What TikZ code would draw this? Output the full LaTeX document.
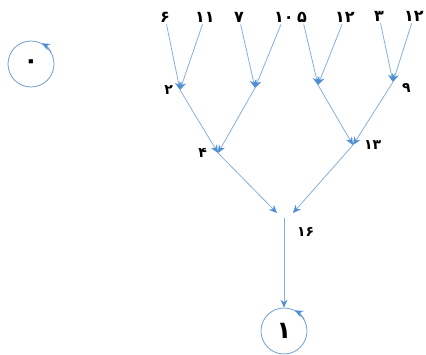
\documentclass[tikz,border=0pt]{standalone}
\usepackage{fontspec}
\newfontfamily\arabicfont[Script=Arabic]{DejaVu Sans}
\usetikzlibrary{arrows.meta,positioning}
\definecolor{edgeblue}{RGB}{135,175,222}
\definecolor{tipblue}{RGB}{78,142,212}
\definecolor{ringblue}{RGB}{115,160,205}

\begin{document}
\begin{tikzpicture}[
    x=1pt, y=1pt,
    leaf/.style={font=\arabicfont\bfseries\fontsize{16}{18}\selectfont, inner sep=2pt},
    weight/.style={font=\arabicfont\bfseries\fontsize{14}{16}\selectfont, inner sep=1pt},
    arrow/.style={-{Stealth[length=8pt,width=7pt,color=tipblue]}, draw=edgeblue, line width=0.8pt},
    ring/.style={circle, draw=ringblue, line width=0.8pt, minimum size=46pt, inner sep=0pt, font=\arabicfont\bfseries\fontsize{24}{26}\selectfont},
    looptip/.style={-{Stealth[length=8pt,width=7pt,color=tipblue]}, draw=ringblue, line width=0.8pt}
]
\useasboundingbox (0,0) rectangle (426,354);

% Leaves
\node[leaf] (lsix) at (165,337) {۶};
\node[leaf] (leleven) at (205,337) {۱۱};
\node[leaf] (lseven) at (239,337) {۷};
\node[leaf] (lten) at (284,337) {۱۰};
\node[leaf] (lfive) at (302,337) {۵};
\node[leaf] (ltwelve) at (345,337) {۱۲};
\node[leaf] (lthree) at (379,338) {۳};
\node[leaf] (ltwelveb) at (414,338) {۱۲};

% Junctions
\coordinate (jtwo) at (180,264);
\coordinate (jleft) at (255,266);
\coordinate (jright) at (318,269);
\coordinate (jnine) at (393,272);
\coordinate (kfour) at (218,201);
\coordinate (kthirteen) at (353,209);
\coordinate (mleft) at (277,141);
\coordinate (mright) at (293,141);
\coordinate (mstem) at (284,136);

% Weights
\node[weight, left=6pt of jtwo] (wtwo) {۲};
\node[weight, below right=0pt and 8pt of jnine] (wnine) {۹};
\node[weight, left=10pt of kfour] (wfour) {۴};
\node[weight, right=10pt of kthirteen] (wthirteen) {۱۳};
\node[weight, below right=8pt and 12pt of mstem] (wsixteen) {۱۶};

% Final states
\node[ring] (czero) at (31,290) {۰};
\node[ring] (cone) at (284,23) {۱};

% Connections
\draw[arrow] (lsix) -- (jtwo);
\draw[arrow] (leleven) -- (jtwo);
\draw[arrow] (lseven) -- (jleft);
\draw[arrow] (lten) -- (jleft);
\draw[arrow] (lfive) -- (jright);
\draw[arrow] (ltwelve) -- (jright);
\draw[arrow] (lthree) -- (jnine);
\draw[arrow] (ltwelveb) -- (jnine);

\draw[arrow] (jtwo) -- (kfour);
\draw[arrow] (jleft) -- (kfour);
\draw[arrow] (jright) -- (kthirteen);
\draw[arrow] (jnine) -- (kthirteen);

\draw[arrow] (kfour) -- (mleft);
\draw[arrow] (kthirteen) -- (mright);
\draw[arrow] (mstem) -- (cone);

\draw[looptip] (czero.30) arc[start angle=30, end angle=62, radius=23.4pt];
\draw[looptip] (cone.30) arc[start angle=30, end angle=62, radius=23.4pt];

\end{tikzpicture}
\end{document}
